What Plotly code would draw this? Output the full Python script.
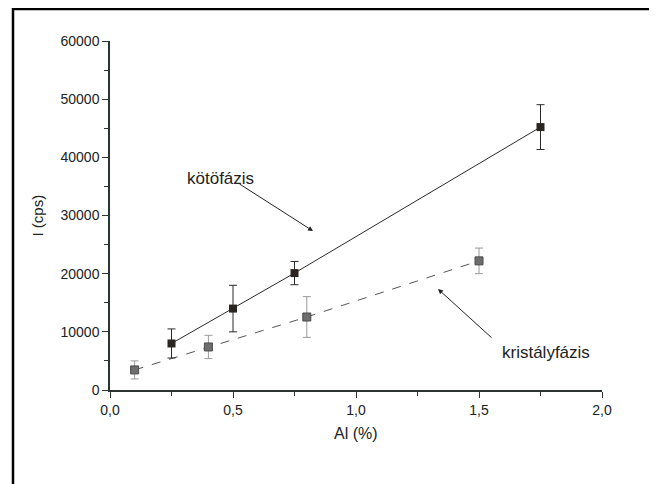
import plotly.graph_objects as go

# kötőfázis (binder phase)
x_kot = [0.25, 0.5, 0.75, 1.75]
y_kot = [8000, 14000, 20100, 45200]
e_kot = [2500, 4000, 2000, 3850]

# kristályfázis (crystal phase)
x_kri = [0.1, 0.4, 0.8, 1.5]
y_kri = [3450, 7400, 12550, 22200]
e_kri = [1550, 2000, 3500, 2200]

x_tickvals = [0.0, 0.5, 1.0, 1.5, 2.0]
x_ticktext = ["0,0", "0,5", "1,0", "1,5", "2,0"]
y_tickvals = [0, 10000, 20000, 30000, 40000, 50000, 60000]
y_ticktext = ["0", "10000", "20000", "30000", "40000", "50000", "60000"]

FONT = "Liberation Sans, Arial, sans-serif"
OFF = 8  # default page body margin
W, H = 657 - OFF, 484 - OFF
# plot area in page pixels: x 110..602, y 41..390
L, T = 110 - OFF, 41 - OFF
R = W - (602 - OFF)
B = H - (390 - OFF)
pw, ph = W - L - R, H - T - B

fig = go.Figure()

fig.add_trace(go.Scatter(
    x=x_kri, y=y_kri, mode="lines+markers",
    line=dict(color="#555555", width=1, dash="dash"),
    marker=dict(symbol="square", size=8, color="#6e6e6e",
                line=dict(color="#4a4a4a", width=1)),
    error_y=dict(type="data", array=e_kri, color="#9a9a9a", thickness=1, width=4),
    showlegend=False,
))
fig.add_trace(go.Scatter(
    x=x_kot, y=y_kot, mode="lines+markers",
    line=dict(color="#2a2a2a", width=1),
    marker=dict(symbol="square", size=8, color="#2b2522"),
    error_y=dict(type="data", array=e_kot, color="#2a2a2a", thickness=1, width=4),
    showlegend=False,
))

axis_common = dict(
    showgrid=False, zeroline=False, showline=True, linecolor="#2e3433",
    linewidth=1.5, ticks="outside", ticklen=6, tickwidth=1.2, tickcolor="#2e3433",
    tickfont=dict(family=FONT, size=14, color="#222"),
)

fig.update_xaxes(range=[0, 2], tickvals=x_tickvals, ticktext=x_ticktext,
                 minor=dict(ticks="outside", ticklen=4, tickvals=[0.25, 0.75, 1.25, 1.75],
                            tickcolor="#2e3433"),
                 **axis_common)
fig.update_yaxes(range=[0, 60000], tickvals=y_tickvals, ticktext=y_ticktext,
                 minor=dict(ticks="outside", ticklen=4,
                            tickvals=[5000, 15000, 25000, 35000, 45000, 55000],
                            tickcolor="#2e3433"),
                 **axis_common)

def px2x(px):  # page pixel -> data x
    return (px - 110) / 492 * 2.0

def py2y(py):  # page pixel -> data y
    return (390 - py) / 349 * 60000

annotations = [
    dict(x=px2x(313), y=py2y(231), ax=px2x(238), ay=py2y(183), xref="x", yref="y",
         axref="x", ayref="y", text="", showarrow=True, arrowhead=2, arrowsize=1,
         arrowwidth=1, arrowcolor="#222"),
    dict(x=px2x(438), y=py2y(289), ax=px2x(493), ay=py2y(339), xref="x", yref="y",
         axref="x", ayref="y", text="", showarrow=True, arrowhead=2, arrowsize=1,
         arrowwidth=1, arrowcolor="#222"),
    dict(x=px2x(220), y=py2y(178), xref="x", yref="y", text="kötöfázis",
         showarrow=False, font=dict(family=FONT, size=17, color="#222")),
    dict(x=px2x(546), y=py2y(352), xref="x", yref="y", text="kristályfázis",
         showarrow=False, font=dict(family=FONT, size=17, color="#222")),
    dict(x=0, y=0.5, xref="paper", yref="paper", xanchor="center", yanchor="middle",
         xshift=-(110 - 37), text="I (cps)", textangle=-90, showarrow=False,
         font=dict(family=FONT, size=15, color="#222")),
    dict(x=0.5, y=0, xref="paper", yref="paper", xanchor="center", yanchor="middle",
         yshift=-43, text="Al (%)", showarrow=False,
         font=dict(family=FONT, size=16, color="#222")),
]

fig.update_layout(
    width=W, height=H,
    margin=dict(l=L, r=R, t=T, b=B),
    paper_bgcolor="white", plot_bgcolor="white",
    annotations=annotations,
    shapes=[dict(type="rect", xref="paper", yref="paper",
                 x0=(13 - 110) / pw, x1=(651 - 110) / pw,
                 y0=(390 - 500) / ph, y1=(390 - 9) / ph,
                 line=dict(color="black", width=2.5), fillcolor="rgba(0,0,0,0)")],
)

fig.write_html("out.html")
